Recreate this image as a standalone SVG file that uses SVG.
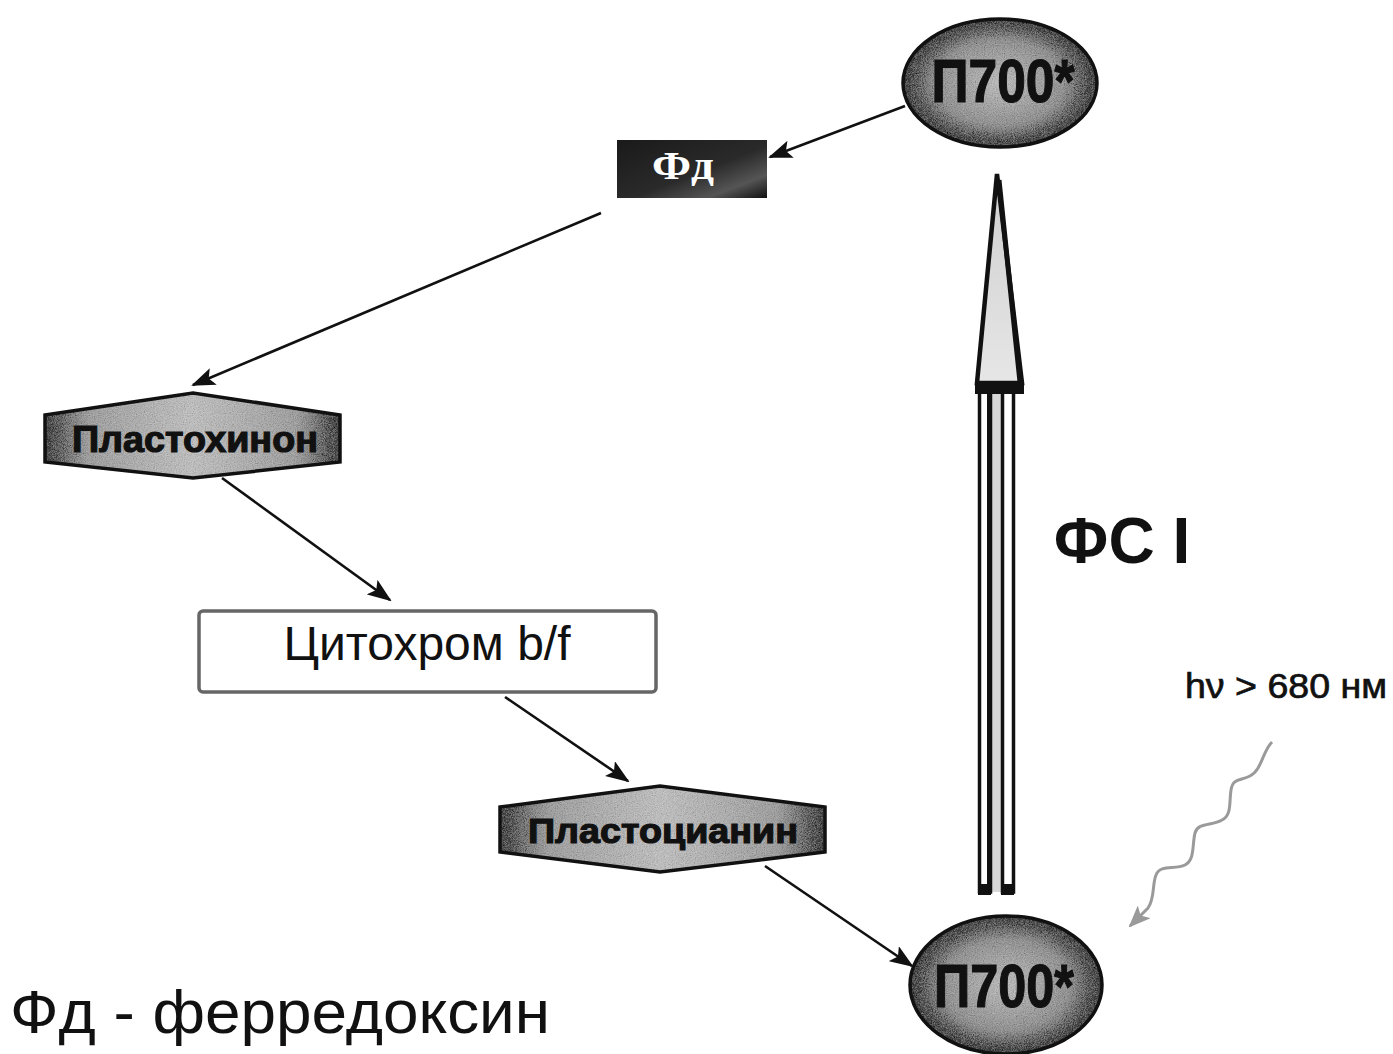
<svg xmlns="http://www.w3.org/2000/svg" width="1393" height="1054" viewBox="0 0 1393 1054">
<defs>
<style>
.conn{stroke:#111;stroke-width:2.6;fill:none;marker-end:url(#ah);}
.outline{fill:none;stroke:#111;stroke-width:3.5;}
.lbl{font-family:"Liberation Sans",Arial,sans-serif;font-weight:bold;fill:#111;text-anchor:middle;}
.heavy{stroke:#111;stroke-width:1.2;}
.plain{font-family:"Liberation Sans",Arial,sans-serif;fill:#111;}
</style>
<marker id="ah" viewBox="0 0 24 18" refX="22" refY="9" markerWidth="24" markerHeight="18" markerUnits="userSpaceOnUse" orient="auto">
<path d="M0,0 L24,9 L0,18 L5,9 Z" fill="#111"/>
</marker>
<marker id="ahg" viewBox="0 0 22 18" refX="20" refY="9" markerWidth="22" markerHeight="18" markerUnits="userSpaceOnUse" orient="auto">
<path d="M0,0 L22,9 L0,18 L5,9 Z" fill="#9a9a9a"/>
</marker>
<radialGradient id="ellG" cx="50%" cy="50%" r="55%">
<stop offset="0" stop-color="#c4c4c4"/>
<stop offset="0.6" stop-color="#a0a0a0"/>
<stop offset="1" stop-color="#5e5e5e"/>
</radialGradient>
<linearGradient id="hexG" x1="0" y1="0" x2="1" y2="0">
<stop offset="0" stop-color="#707070"/>
<stop offset="0.15" stop-color="#ababab"/>
<stop offset="0.5" stop-color="#c8c8c8"/>
<stop offset="0.85" stop-color="#ababab"/>
<stop offset="1" stop-color="#707070"/>
</linearGradient>
<linearGradient id="fdG" x1="0" y1="0" x2="1" y2="1">
<stop offset="0" stop-color="#1a1a1a"/>
<stop offset="0.55" stop-color="#2a2a2a"/>
<stop offset="0.8" stop-color="#555"/>
<stop offset="1" stop-color="#111"/>
</linearGradient>
<linearGradient id="headG" x1="0" y1="0" x2="0" y2="1">
<stop offset="0" stop-color="#cfcfcf"/>
<stop offset="1" stop-color="#e6e6e6"/>
</linearGradient>
<filter id="grain" x="0" y="0" width="100%" height="100%">
<feTurbulence type="fractalNoise" baseFrequency="0.9" numOctaves="2" seed="7" result="n"/>
<feColorMatrix in="n" type="saturate" values="0" result="gn"/>
<feComposite in="SourceGraphic" in2="gn" operator="arithmetic" k1="0" k2="0.75" k3="0.6" k4="-0.3" result="mix"/>
<feComposite in="mix" in2="SourceGraphic" operator="in"/>
</filter>
</defs>
<rect width="1393" height="1054" fill="#fff"/>

<g id="connectors">
<line class="conn" x1="905" y1="106" x2="770" y2="157"/>
<line class="conn" x1="601" y1="213" x2="193" y2="385"/>
<line class="conn" x1="222" y1="478" x2="390" y2="600"/>
<line class="conn" x1="505" y1="697" x2="628" y2="781"/>
<line class="conn" x1="765" y1="866" x2="912" y2="966"/>
</g>

<g id="p700-top">
<ellipse cx="1000" cy="83" rx="97" ry="64" fill="url(#ellG)" filter="url(#grain)"/>
<ellipse class="outline" cx="1000" cy="83" rx="97" ry="64"/>
<text class="lbl heavy" x="1003" y="102" font-size="62" textLength="143" lengthAdjust="spacingAndGlyphs">П700*</text>
</g>

<g id="fd">
<rect x="617" y="140" width="150" height="58" fill="url(#fdG)"/>
<text x="683" y="179" font-family="'Liberation Serif','Times New Roman',serif" font-weight="bold" font-size="40" fill="#fff" text-anchor="middle" textLength="62" lengthAdjust="spacingAndGlyphs">Фд</text>
</g>

<g id="plastoquinone">
<polygon points="45,415 193,393 340,415 340,462 193,478 45,462" fill="url(#hexG)" filter="url(#grain)"/>
<polygon class="outline" points="45,415 193,393 340,415 340,462 193,478 45,462"/>
<text class="lbl heavy" x="195" y="452" font-size="36" textLength="246" lengthAdjust="spacingAndGlyphs">Пластохинон</text>
</g>

<g id="cytochrome">
<rect x="199" y="611" width="457" height="81" rx="4" fill="#fff" stroke="#666" stroke-width="3.5"/>
<text class="plain" x="427" y="660" font-size="48" text-anchor="middle" textLength="287" lengthAdjust="spacingAndGlyphs">Цитохром b/f</text>
</g>

<g id="plastocyanin">
<polygon points="500,807 660,786 825,807 825,852 660,872 500,852" fill="url(#hexG)" filter="url(#grain)"/>
<polygon class="outline" points="500,807 660,786 825,807 825,852 660,872 500,852"/>
<text class="lbl heavy" x="663" y="843" font-size="35" textLength="270" lengthAdjust="spacingAndGlyphs">Пластоцианин</text>
</g>

<g id="p700-bottom">
<ellipse cx="1006" cy="985" rx="96" ry="69" fill="url(#ellG)" filter="url(#grain)"/>
<ellipse class="outline" cx="1006" cy="985" rx="96" ry="69"/>
<text class="lbl heavy" x="1004" y="1007" font-size="62" textLength="140" lengthAdjust="spacingAndGlyphs">П700*</text>
</g>

<g id="fs1-arrow">
<rect x="991" y="392" width="10" height="500" fill="#d8d8d8"/>
<rect x="979.5" y="392" width="11" height="500" fill="#fff" stroke="#111" stroke-width="3.5"/>
<rect x="1002.5" y="392" width="11" height="500" fill="#fff" stroke="#111" stroke-width="3.5"/>
<line x1="989" y1="392" x2="989" y2="892" stroke="#111" stroke-width="4"/>
<line x1="1003" y1="392" x2="1003" y2="892" stroke="#111" stroke-width="2"/>
<rect x="978" y="884" width="13" height="11" fill="#111"/>
<rect x="1001" y="884" width="13" height="11" fill="#111"/>
<rect x="975" y="380" width="49" height="14" fill="#111"/>
<polygon points="997,174 977,383 1022,383" fill="url(#headG)" stroke="#111" stroke-width="4.5" stroke-linejoin="miter"/>
<line x1="999" y1="180" x2="1020" y2="382" stroke="#111" stroke-width="5"/>
</g>

<g id="fs1-label">
<text class="lbl" x="1122" y="563" font-size="64">ФС I</text>
</g>

<g id="light">
<text class="plain" x="1185" y="698" font-size="35" stroke="#111" stroke-width="0.7" textLength="202" lengthAdjust="spacingAndGlyphs">hν &gt; 680 нм</text>
<path d="M1272,742 C1262,752 1262,770 1250,776 C1240,781 1233,778 1231,790 C1229,802 1232,815 1222,820 C1212,826 1198,822 1195,833 C1192,845 1195,860 1185,865 C1175,870 1160,864 1156,875 C1152,885 1155,898 1148,908 L1130,926" fill="none" stroke="#9a9a9a" stroke-width="3" marker-end="url(#ahg)"/>
</g>

<g id="legend">
<text class="plain" x="10" y="1033" font-size="62" textLength="540" lengthAdjust="spacingAndGlyphs">Фд - ферредоксин</text>
</g>
</svg>
